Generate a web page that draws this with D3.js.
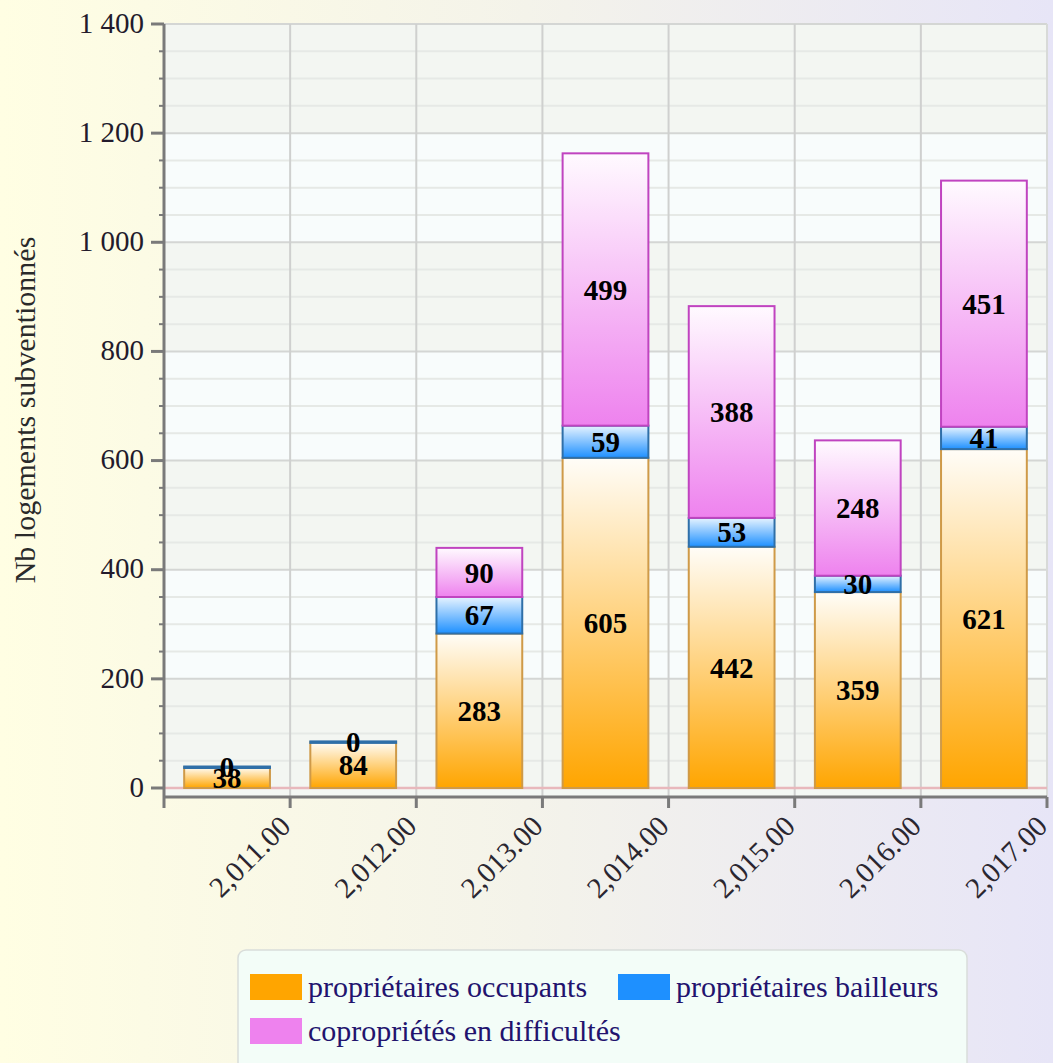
<!DOCTYPE html>
<html>
<head>
<meta charset="utf-8">
<script src="https://cdnjs.cloudflare.com/ajax/libs/d3/7.8.5/d3.min.js"></script>
<style>
  body { margin: 0; }
  text { font-family: "Liberation Serif", "Times New Roman", serif; }
</style>
</head>
<body>
<div id="chart"></div>
<script>
// data
var years = [2011, 2012, 2013, 2014, 2015, 2016, 2017];
var xTickLabels = ["2,011.00", "2,012.00", "2,013.00", "2,014.00", "2,015.00", "2,016.00", "2,017.00"];
var occupants = [38, 84, 283, 605, 442, 359, 621];
var bailleurs = [0, 0, 67, 59, 53, 30, 41];
var copros = [null, null, 90, 499, 388, 248, 451];
var seriesNames = ["propriétaires occupants", "propriétaires bailleurs", "copropriétés en difficultés"];
var yTicks = [0, 200, 400, 600, 800, 1000, 1200, 1400];
var yMinorTicks = d3.range(0, 1401, 50);

var width = 1053,
    height = 1063;
var plotLeft = 164, plotRight = 1047, plotTop = 24, plotBottom = 797;

var svg = d3.select("#chart")
  .append("svg")
    .attr("width", width)
    .attr("height", height);

var defs = svg.append("defs");

// page background
var bg = defs.append("linearGradient").attr("id", "bg")
  .attr("x1", "0%").attr("x2", "100%").attr("y1", "0%").attr("y2", "0%");
bg.append("stop").attr("offset", "0%").attr("stop-color", "#fffee3");
bg.append("stop").attr("offset", "50%").attr("stop-color", "#f4f3ea");
bg.append("stop").attr("offset", "100%").attr("stop-color", "#e7e5f7");

svg.append("rect")
  .attr("width", width)
  .attr("height", height)
  .attr("fill", "url(#bg)");

// bar gradients, one per series
var barColors = [
  {id: "gOcc", top: "#fffdf8", bottom: "#ffa500", stroke: "#cf9a48"},
  {id: "gBai", top: "#e6f3ff", bottom: "#1e90ff", stroke: "#2f6fa8"},
  {id: "gCop", top: "#fffaff", bottom: "#ee82ee", stroke: "#c044c0"}
];
var legendColors = ["#ffa500", "#1e90ff", "#ee82ee"];

barColors.forEach(function(c) {
  var g = defs.append("linearGradient").attr("id", c.id)
    .attr("x1", "0%").attr("x2", "0%").attr("y1", "0%").attr("y2", "100%");
  g.append("stop").attr("offset", "0%").attr("stop-color", c.top);
  g.append("stop").attr("offset", "100%").attr("stop-color", c.bottom);
});

// scales
var y = d3.scaleLinear()
  .domain([-16.5, 1400])
  .range([plotBottom, plotTop]);

var x = d3.scaleBand()
  .domain(years)
  .range([plotLeft, plotRight])
  .paddingInner(0.32)
  .paddingOuter(0.16);

var step = x.step();
function cellRight(d) { return x(d) - step * 0.16 + step; }

var fmt = d3.formatLocale({decimal: ",", thousands: " ", grouping: [3], currency: ["", ""]}).format(",d");

// plot background: alternating bands between major ticks
var bands = d3.pairs(yTicks.slice().reverse());
svg.selectAll("rect.band")
  .data(bands)
  .enter()
  .append("rect")
    .attr("x", plotLeft)
    .attr("width", plotRight - plotLeft)
    .attr("y", function(d) { return y(d[0]); })
    .attr("height", function(d) { return y(d[1]) - y(d[0]); })
    .attr("fill", function(d, i) { return i % 2 == 0 ? "#f3f6f2" : "#f8fcfc"; });

svg.append("rect")
  .attr("x", plotLeft)
  .attr("width", plotRight - plotLeft)
  .attr("y", y(0))
  .attr("height", plotBottom - y(0))
  .attr("fill", "#f4f8f4");

// minor grid
svg.selectAll("line.minor")
  .data(yMinorTicks.filter(function(d) { return d % 200 != 0; }))
  .enter()
  .append("line")
    .attr("x1", plotLeft).attr("x2", plotRight)
    .attr("y1", function(d) { return y(d); })
    .attr("y2", function(d) { return y(d); })
    .attr("stroke", "#e6e9e6")
    .attr("stroke-width", 2);

// major grid
svg.selectAll("line.major")
  .data(yTicks.filter(function(d) { return d != 0; }))
  .enter()
  .append("line")
    .attr("x1", plotLeft).attr("x2", plotRight)
    .attr("y1", function(d) { return y(d); })
    .attr("y2", function(d) { return y(d); })
    .attr("stroke", "#d4d6d4")
    .attr("stroke-width", 2);

// vertical grid
svg.selectAll("line.vgrid")
  .data(years)
  .enter()
  .append("line")
    .attr("x1", function(d) { return cellRight(d); })
    .attr("x2", function(d) { return cellRight(d); })
    .attr("y1", plotTop).attr("y2", plotBottom)
    .attr("stroke", function(d, i) { return i == years.length - 1 ? "#d8dad8" : "#cfd0cf"; })
    .attr("stroke-width", 2);

// zero line
svg.append("line")
  .attr("x1", plotLeft).attr("x2", plotRight)
  .attr("y1", y(0)).attr("y2", y(0))
  .attr("stroke", "#e8b8bc")
  .attr("stroke-width", 2.5);

// stacked bars
var table = years.map(function(yr, i) {
  return {year: yr, occ: occupants[i], bai: bailleurs[i], cop: copros[i]};
});
var keys = ["occ", "bai", "cop"];
var stacked = d3.stack().keys(keys)(table);

stacked.forEach(function(layer, k) {
  var segs = layer.filter(function(d) { return d.data[layer.key] != null; });

  svg.selectAll("rect.s" + k)
    .data(segs)
    .enter()
    .append("rect")
      .attr("x", function(d) { return x(d.data.year); })
      .attr("width", x.bandwidth())
      .attr("y", function(d) { return y(d[1]) - (d[1] == d[0] ? 0.75 : 0); })
      // a zero value still shows as a thin line
      .attr("height", function(d) { return Math.max(y(d[0]) - y(d[1]), 1.5); })
      .attr("fill", "url(#" + barColors[k].id + ")")
      .attr("stroke", barColors[k].stroke)
      .attr("stroke-width", 2);
});

// value labels
stacked.forEach(function(layer) {
  var segs = layer.filter(function(d) { return d.data[layer.key] != null; });

  svg.selectAll("text.v" + layer.key)
    .data(segs)
    .enter()
    .append("text")
      .attr("x", function(d) { return x(d.data.year) + x.bandwidth() / 2; })
      .attr("y", function(d) { return (y(d[0]) + y(d[1])) / 2; })
      .attr("dy", "0.35em")
      .attr("text-anchor", "middle")
      .style("font-size", "29px")
      .style("font-weight", "bold")
      .attr("fill", "#000")
      .text(function(d) { return d.data[layer.key]; });
});

// y axis
var yAxisG = svg.append("g");

yAxisG.selectAll("line.ymin")
  .data(yMinorTicks.filter(function(d) { return d % 200 != 0; }))
  .enter()
  .append("line")
    .attr("x1", plotLeft - 5).attr("x2", plotLeft)
    .attr("y1", function(d) { return y(d); })
    .attr("y2", function(d) { return y(d); })
    .attr("stroke", "#7a7a7a")
    .attr("stroke-width", 2);

yAxisG.selectAll("line.ymaj")
  .data(yTicks)
  .enter()
  .append("line")
    .attr("x1", plotLeft - 13).attr("x2", plotLeft)
    .attr("y1", function(d) { return y(d); })
    .attr("y2", function(d) { return y(d); })
    .attr("stroke", "#7a7a7a")
    .attr("stroke-width", 3);

yAxisG.selectAll("text")
  .data(yTicks)
  .enter()
  .append("text")
    .attr("x", plotLeft - 20)
    .attr("y", function(d) { return y(d); })
    .attr("dy", "0.3em")
    .attr("text-anchor", "end")
    .style("font-size", "29px")
    .attr("fill", "#231a2c")
    .text(function(d) { return fmt(d); });

yAxisG.append("line")
  .attr("x1", plotLeft).attr("x2", plotLeft)
  .attr("y1", plotTop).attr("y2", plotBottom + 11)
  .attr("stroke", "#7a7a7a")
  .attr("stroke-width", 3);

// x axis
var xAxisG = svg.append("g");

xAxisG.append("line")
  .attr("x1", plotLeft).attr("x2", plotRight)
  .attr("y1", plotBottom).attr("y2", plotBottom)
  .attr("stroke", "#7a7a7a")
  .attr("stroke-width", 3);

xAxisG.selectAll("line.xt")
  .data(years)
  .enter()
  .append("line")
    .attr("x1", function(d) { return cellRight(d); })
    .attr("x2", function(d) { return cellRight(d); })
    .attr("y1", plotBottom).attr("y2", plotBottom + 11)
    .attr("stroke", "#7a7a7a")
    .attr("stroke-width", 3);

xAxisG.selectAll("text")
  .data(years)
  .enter()
  .append("text")
    .attr("transform", function(d) { return "translate(" + (cellRight(d) + 2) + "," + (plotBottom + 31) + ") rotate(-45)"; })
    .attr("text-anchor", "end")
    .style("font-size", "29px")
    .attr("fill", "#2a2630")
    .text(function(d, i) { return xTickLabels[i]; });

// y title
svg.append("text")
  .attr("transform", "translate(35,410) rotate(-90)")
  .attr("text-anchor", "middle")
  .style("font-size", "30px")
  .attr("fill", "#2a2a2a")
  .text("Nb logements subventionnés");

// legend
var legend = svg.append("g");

legend.append("rect")
  .attr("x", 238).attr("y", 950)
  .attr("width", 729).attr("height", 140)
  .attr("rx", 8)
  .attr("fill", "#f3fdf8")
  .attr("stroke", "#d9ddda")
  .attr("stroke-width", 1.5);

var legendPos = [[250, 997], [618, 997], [250, 1041]];

legend.selectAll("rect.sw")
  .data(seriesNames)
  .enter()
  .append("rect")
    .attr("x", function(d, i) { return legendPos[i][0]; })
    .attr("y", function(d, i) { return legendPos[i][1] - 23; })
    .attr("width", 52)
    .attr("height", 26)
    .attr("fill", function(d, i) { return legendColors[i]; });

legend.selectAll("text")
  .data(seriesNames)
  .enter()
  .append("text")
    .attr("x", function(d, i) { return legendPos[i][0] + 58; })
    .attr("y", function(d, i) { return legendPos[i][1]; })
    .style("font-size", "30px")
    .attr("fill", "#22136e")
    .text(function(d) { return d; });
</script>
</body>
</html>
